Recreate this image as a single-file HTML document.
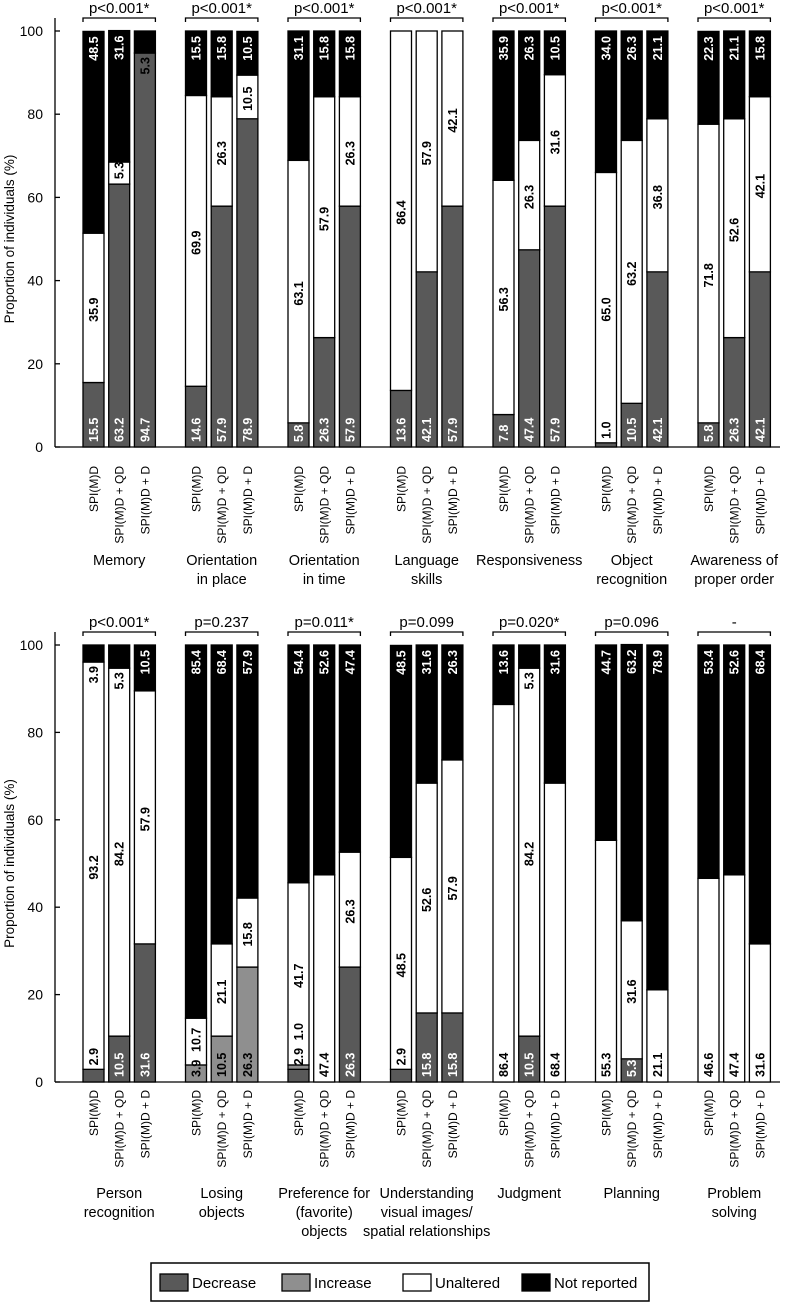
<!DOCTYPE html>
<html><head><meta charset="utf-8"><style>
body{margin:0;background:#fff;width:800px;height:1303px;overflow:hidden}
svg text{font-family:"Liberation Sans",sans-serif}
</style></head><body>
<svg id="chart" width="800" height="1303" viewBox="0 0 800 1303" xmlns="http://www.w3.org/2000/svg"></svg>
<script>
const categoriesTop = ["Memory","Orientation in place","Orientation in time","Language skills","Responsiveness","Object recognition","Awareness of proper order"];
const labelsTop = [["Memory"],["Orientation","in place"],["Orientation","in time"],["Language","skills"],["Responsiveness"],["Object","recognition"],["Awareness of","proper order"]];
const pTop = ["p<0.001*","p<0.001*","p<0.001*","p<0.001*","p<0.001*","p<0.001*","p<0.001*"];
const categoriesBottom = ["Person recognition","Losing objects","Preference for (favorite) objects","Understanding visual images/spatial relationships","Judgment","Planning","Problem solving"];
const labelsBottom = [["Person","recognition"],["Losing","objects"],["Preference for","(favorite)","objects"],["Understanding","visual images/","spatial relationships"],["Judgment"],["Planning"],["Problem","solving"]];
const pBottom = ["p<0.001*","p=0.237","p=0.011*","p=0.099","p=0.020*","p=0.096","-"];
const groups = ["SPI(M)D","SPI(M)D + QD","SPI(M)D + D"];
const seriesNames = ["Decrease","Increase","Unaltered","Not reported"];
const decreaseTop = [[15.5,63.2,94.7],[14.6,57.9,78.9],[5.8,26.3,57.9],[13.6,42.1,57.9],[7.8,47.4,57.9],[1.0,10.5,42.1],[5.8,26.3,42.1]];
const increaseTop = [[0,0,0],[0,0,0],[0,0,0],[0,0,0],[0,0,0],[0,0,0],[0,0,0]];
const unalteredTop = [[35.9,5.3,0],[69.9,26.3,10.5],[63.1,57.9,26.3],[86.4,57.9,42.1],[56.3,26.3,31.6],[65.0,63.2,36.8],[71.8,52.6,42.1]];
const notReportedTop = [[48.5,31.6,5.3],[15.5,15.8,10.5],[31.1,15.8,15.8],[0,0,0],[35.9,26.3,10.5],[34.0,26.3,21.1],[22.3,21.1,15.8]];
const decreaseBottom = [[2.9,10.5,31.6],[0,0,0],[2.9,0,26.3],[2.9,15.8,15.8],[0,10.5,0],[0,5.3,0],[0,0,0]];
const increaseBottom = [[0,0,0],[3.9,10.5,26.3],[1.0,0,0],[0,0,0],[0,0,0],[0,0,0],[0,0,0]];
const unalteredBottom = [[93.2,84.2,57.9],[10.7,21.1,15.8],[41.7,47.4,26.3],[48.5,52.6,57.9],[86.4,84.2,68.4],[55.3,31.6,21.1],[46.6,47.4,31.6]];
const notReportedBottom = [[3.9,5.3,10.5],[85.4,68.4,57.9],[54.4,52.6,47.4],[48.5,31.6,26.3],[13.6,5.3,31.6],[44.7,63.2,78.9],[53.4,52.6,68.4]];
const yTicks = [0,20,40,60,80,100];

const colors = ["#595959","#8f8f8f","#ffffff","#000000"];
const svg = document.getElementById('chart');
const NS = "http://www.w3.org/2000/svg";
function mk(tag, attrs, parent){const e=document.createElementNS(NS,tag);for(const k in attrs)e.setAttribute(k,attrs[k]);(parent||svg).appendChild(e);return e;}

function drawPanel(pfx, yTop, yBot, dec, inc, una, nr, catLabels, pvals, labY, barLabOff){
  const y = v => yBot - (v/100)*(yBot-yTop);
  const gx = gi => 83 + gi*102.5;
  const bx = (gi,bi) => gx(gi) + bi*25.7;
  const bw = 21;
  const panel = mk('g',{});
  
  
  const ax = mk('line',{x1:55,y1:yTop-13,x2:55,y2:yBot,stroke:'#000','stroke-width':1.3},panel);
  
  
  const bl = mk('line',{x1:55,y1:yBot,x2:780,y2:yBot,stroke:'#000','stroke-width':1.3},panel);
  
  
  yTicks.forEach(t=>{
    const tk = mk('line',{x1:55,y1:y(t),x2:60,y2:y(t),stroke:'#000','stroke-width':1.3},panel);
    
    
    const tl = mk('text',{x:43,y:y(t)+5,'text-anchor':'end','font-size':14},panel);
    tl.textContent = t;
    
    
  });
  const yl = mk('text',{x:0,y:0,'text-anchor':'middle','font-size':13.5,transform:`translate(14,${(yTop+yBot)/2}) rotate(-90)`},panel);
  yl.textContent = "Proportion of individuals (%)";
  
  

  for(let gi=0; gi<7; gi++){
    const x1 = bx(gi,0), x2 = bx(gi,2)+bw, by = yTop-13;
    const br = mk('path',{d:`M${x1},${by+4} V${by} H${x2} V${by+4}`,fill:'none',stroke:'#000','stroke-width':1.3},panel);
    
    
    const pt = mk('text',{x:(x1+x2)/2,y:by-5,'text-anchor':'middle','font-size':15},panel);
    pt.textContent = pvals[gi];
    
    
    catLabels[gi].forEach((ln,li)=>{
      const t = mk('text',{x:bx(gi,1)+bw/2,y:labY+li*19,'text-anchor':'middle','font-size':14.5},panel);
      t.textContent = ln;
      
      
    });
    for(let bi=0; bi<3; bi++){
      const vals = [dec[gi][bi],inc[gi][bi],una[gi][bi],nr[gi][bi]];
      const x = bx(gi,bi), cx = x+bw/2;
      let cum = 0, cursor = yBot;
      const segs = [];
      vals.forEach((v,si)=>{
        if(v<=0){return;}
        const r = mk('rect',{x:x,y:y(cum+v),width:bw,height:y(cum)-y(cum+v),fill:colors[si],stroke:'#000','stroke-width':1.3},panel);
        
        
        segs.push({si,v,lo:cum,hi:cum+v});
        cum += v;
      });
      segs.forEach((s,k)=>{
        const txt = s.v.toFixed(1);
        const TL = txt.length*7;
        const segH = y(s.lo)-y(s.hi);
        let anchorY, fill;
        if(s.si===3){
          if(segH>=TL+4){ anchorY = y(s.hi)+5; fill='#fff'; }
          else { anchorY = y(s.lo)+4; fill='#000'; }
          const t = mk('text',{x:0,y:0,'text-anchor':'end','font-size':12.5,'font-weight':'bold',fill:fill,transform:`translate(${cx+4.5},${anchorY}) rotate(-90)`},panel);
          t.textContent = txt;
          
          
          return;
        }
        let startY;
        if(s.si===2 && s.lo>0 && segH>TL+6){
          startY = (y(s.lo)+y(s.hi))/2 + TL/2;
          if(startY>cursor-4) startY = cursor-4;
        } else if(s.si===0 && s.v<5){
          startY = Math.min(y(s.hi)-4, cursor-4);
        } else {
          startY = Math.min(y(s.lo)-5, cursor-4);
        }
        fill = (s.si===0 && s.v>=5) ? '#fff' : '#000';
        const t = mk('text',{x:0,y:0,'text-anchor':'start','font-size':12.5,'font-weight':'bold',fill:fill,transform:`translate(${cx+4.5},${startY}) rotate(-90)`},panel);
        t.textContent = txt;
        
        
        cursor = startY - TL;
      });
      const gl = mk('text',{x:0,y:0,'text-anchor':'end','font-size':12,transform:`translate(${cx+4.5},${yBot+barLabOff}) rotate(-90)`},panel);
      gl.textContent = groups[bi];
      
      
    }
  }
}
drawPanel('top',31,447,decreaseTop,increaseTop,unalteredTop,notReportedTop,labelsTop,pTop,565,19);
drawPanel('bottom',645,1082,decreaseBottom,increaseBottom,unalteredBottom,notReportedBottom,labelsBottom,pBottom,1198,8);

const lg = mk('g',{});


const lb = mk('rect',{x:151,y:1263,width:498,height:38,fill:'#fff',stroke:'#000','stroke-width':1.5},lg);


const lx = [160,282,403,522];
seriesNames.forEach((n,i)=>{
  const s = mk('rect',{x:lx[i],y:1274,width:28,height:17,fill:colors[i],stroke:'#000','stroke-width':1.3},lg);
  
  
  const t = mk('text',{x:lx[i]+32,y:1288,'font-size':15},lg);
  t.textContent = n;
  
  
});
</script>
</body></html>
